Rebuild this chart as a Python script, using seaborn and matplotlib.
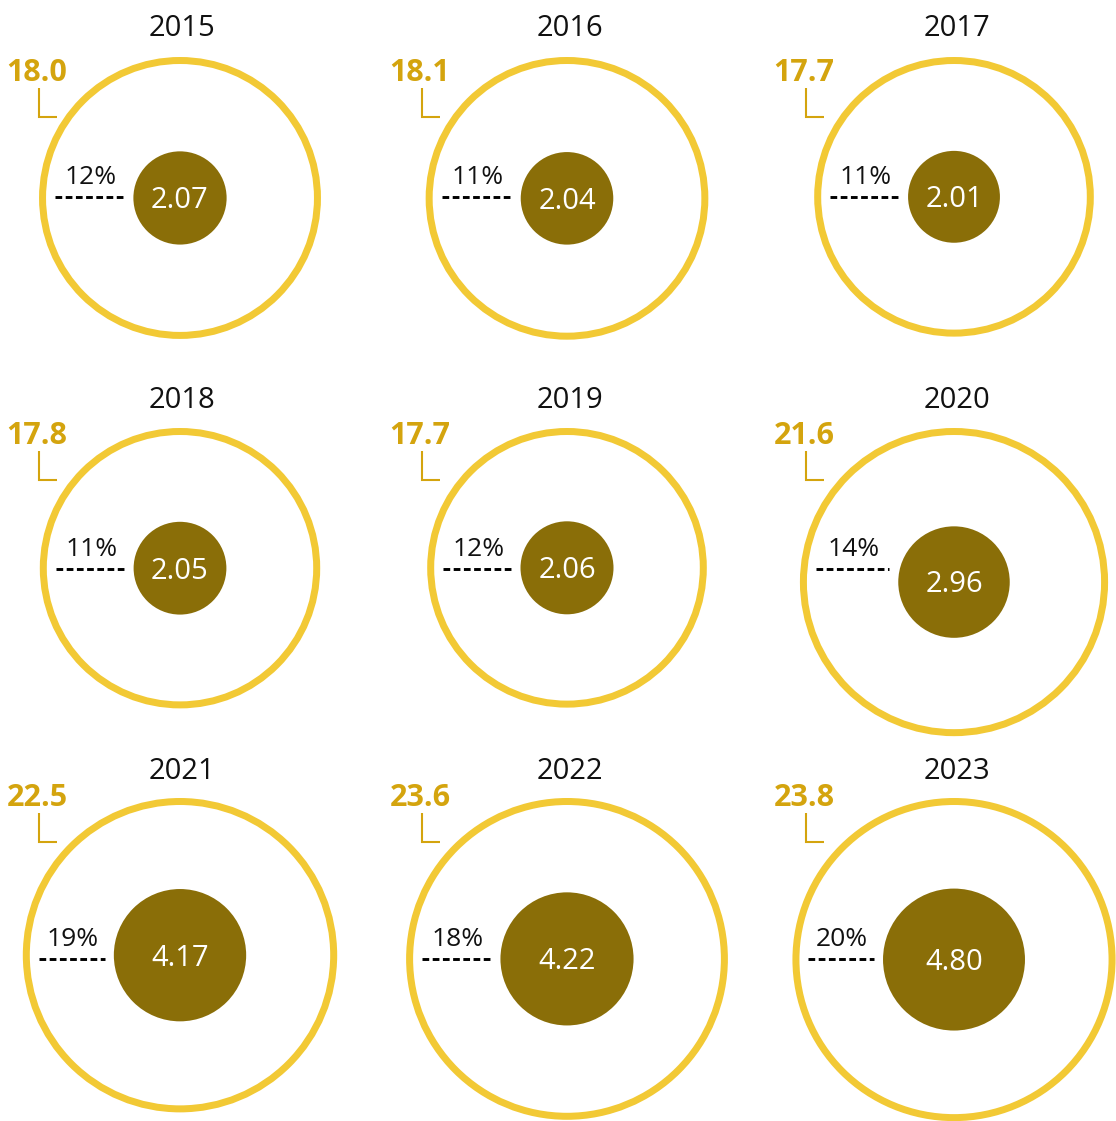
import numpy as np
import pandas as pd
import seaborn as sns
import matplotlib.pyplot as plt

# ---- data ----
years = [2015, 2016, 2017, 2018, 2019, 2020, 2021, 2022, 2023]
totals = [18.0, 18.1, 17.7, 17.8, 17.7, 21.6, 22.5, 23.6, 23.8]
inner_vals = [2.07, 2.04, 2.01, 2.05, 2.06, 2.96, 4.17, 4.22, 4.80]
shares = [12, 11, 11, 11, 12, 14, 19, 18, 20]

# ---- layout (pixels) ----
W, H, DPI = 1116, 1121, 100
PT = 72 / DPI
K = 32.4            # px per sqrt(unit)
RING_W = 7          # px
COL_CX = [180, 567, 954]
COL_TITLE_X = [182, 570, 957]
COL_LABEL_X = [37, 420, 804]
ROW_TOP = [57, 428, 798]
ROW_TITLE_BASE = [36, 408, 779]
ROW_LABEL_C = [70, 433, 795]
ROW_DASH_Y = [197, 569, 959]

RING = "#F2C935"
OLIVE = "#8A6E08"
GOLD = "#D4A40E"

sns.set_theme(style="white")
plt.rcParams['font.family'] = ['Open Sans', 'DejaVu Sans']

df = pd.DataFrame({"year": years, "total": totals, "inner": inner_vals, "share": shares})
df["row"] = np.arange(len(df)) // 3
df["col"] = np.arange(len(df)) % 3
df["R"] = K * np.sqrt(df["total"])
df["r"] = K * np.sqrt(df["inner"])
df["cx"] = [COL_CX[c] for c in df["col"]]
df["cy"] = [ROW_TOP[r] + RING_W / 2 + R for r, R in zip(df["row"], df["R"])]

fig = plt.figure(figsize=(W / DPI, H / DPI), dpi=DPI)
ax = fig.add_axes([0, 0, 1, 1])
ax.set_xlim(0, W)
ax.set_ylim(H, 0)
ax.axis('off')

# outer rings (area proportional to total)
sizes_out = {v: (2 * K * np.sqrt(v) * PT) ** 2 for v in df["total"].unique()}
sns.scatterplot(data=df, x="cx", y="cy", size="total", sizes=sizes_out,
                color="white", edgecolor=RING, linewidth=RING_W * PT,
                legend=False, ax=ax, zorder=1)

# inner discs
sizes_in = {v: (2 * K * np.sqrt(v) * PT) ** 2 for v in df["inner"].unique()}
sns.scatterplot(data=df, x="cx", y="cy", size="inner", sizes=sizes_in,
                color=OLIVE, linewidth=0, legend=False, ax=ax, zorder=2)

FS_TITLE, FS_VAL, FS_PCT, FS_LAB = 21, 21, 19, 22
px = DPI / 72
for _, d in df.iterrows():
    row, col = int(d["row"]), int(d["col"])
    # title
    ax.text(COL_TITLE_X[col], ROW_TITLE_BASE[row], str(int(d["year"])),
            ha="center", va="baseline", fontsize=FS_TITLE, color="#111111")
    # inner value
    ax.text(d["cx"], d["cy"] + FS_VAL * px * 0.714 / 2, f"{d['inner']:.2f}",
            ha="center", va="baseline", fontsize=FS_VAL, color="white", zorder=3)
    # total label with bracket
    lx = COL_LABEL_X[col]
    lc = ROW_LABEL_C[row]
    ax.text(lx, lc + FS_LAB * px * 0.714 / 2, f"{d['total']:.1f}",
            ha="center", va="baseline", fontsize=FS_LAB, fontweight="bold", color=GOLD)
    bx = lx + 2
    ax.plot([bx, bx, bx + 18], [lc + 18, lc + 47, lc + 47], color=GOLD,
            lw=1.5, solid_capstyle="butt", solid_joinstyle="miter")
    # share with dashed line
    dy = ROW_DASH_Y[row]
    x0 = d["cx"] - (d["R"] + RING_W / 2) + 16
    x1 = d["cx"] - d["r"] - 9
    ax.plot([x0, x1], [dy, dy], color="black", lw=2.1,
            linestyle=(0, (2.3, 1.2)), zorder=3)
    ax.text((x0 + x1) / 2 + 1, dy - 13.5, f"{int(d['share'])}%",
            ha="center", va="baseline", fontsize=FS_PCT, color="#111111", zorder=3)

fig.savefig("out.png", dpi=DPI)
